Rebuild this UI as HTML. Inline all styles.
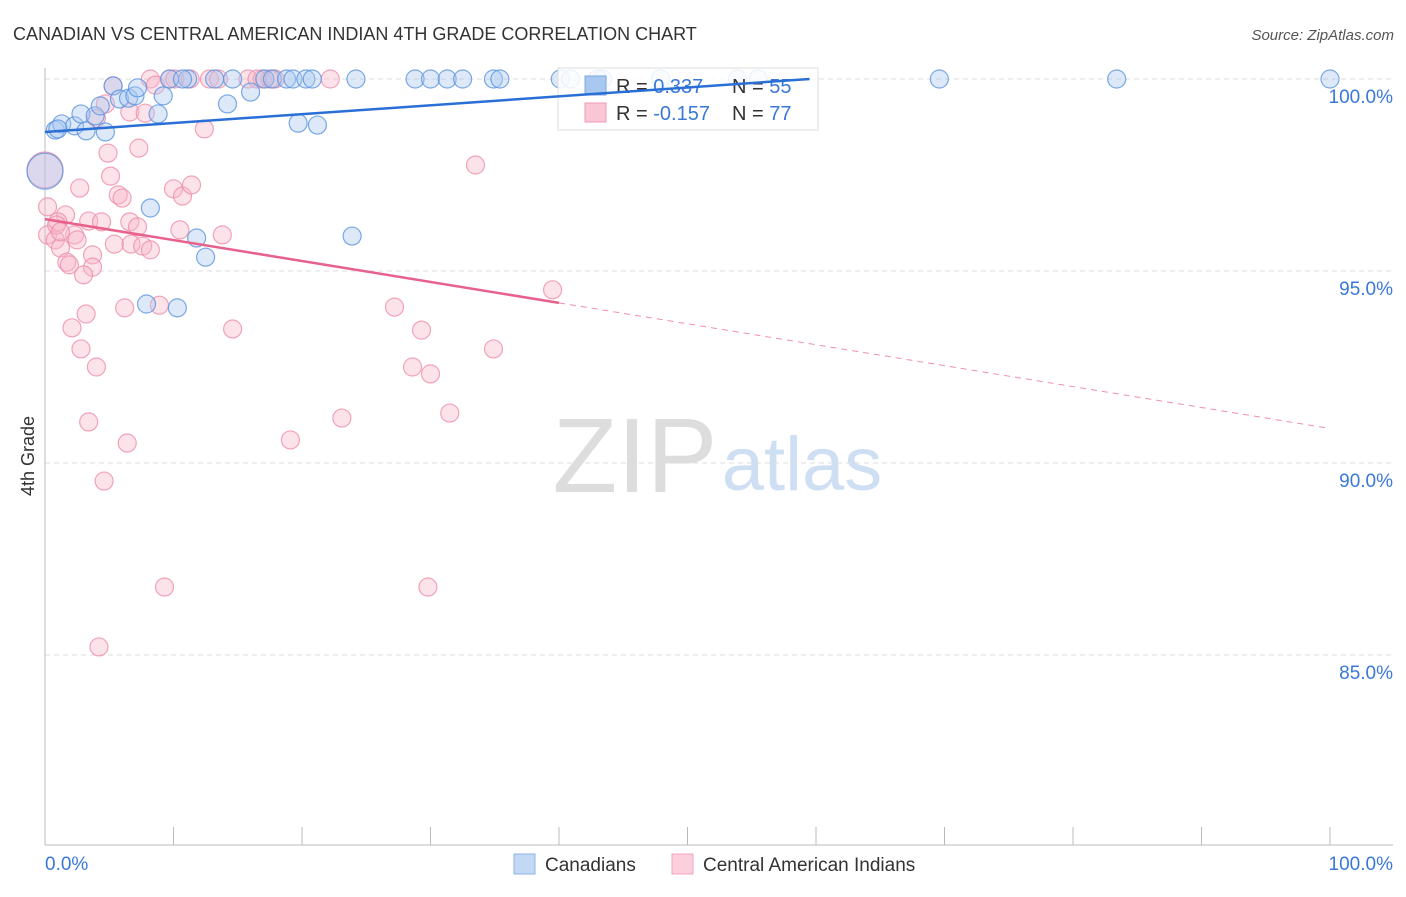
<!DOCTYPE html>
<html><head><meta charset="utf-8"><style>
body{margin:0;background:#fff;font-family:"Liberation Sans",sans-serif}
svg text{font-family:"Liberation Sans",sans-serif}
</style></head><body>
<svg id="chart" width="1406" height="892" viewBox="0 0 1406 892" xmlns="http://www.w3.org/2000/svg">
<text x="13" y="40" font-size="18" fill="#333">CANADIAN VS CENTRAL AMERICAN INDIAN 4TH GRADE CORRELATION CHART</text>
<text x="1394" y="40" font-size="15" fill="#555" text-anchor="end" font-style="italic">Source: ZipAtlas.com</text>
<g>
<text x="635" y="492" font-size="106" fill="#ddd" text-anchor="middle" font-family="Liberation Serif">ZIP</text>
<text x="802" y="490" font-size="76" fill="#cfdff3" text-anchor="middle">atlas</text>
</g>
<g id="grid"></g><g id="axes"></g><g id="pts"></g>
<g>
<rect x="558" y="68" width="260" height="62" fill="#fff" fill-opacity="0.85" stroke="#ddd"/>
<rect x="585" y="76" width="21" height="19" fill="#a9c8f0" stroke="#7aa8e6"/>
<rect x="585" y="103" width="21" height="19" fill="#f9c6d5" stroke="#f09ab3"/>
<text x="616" y="93" font-size="20" fill="#333">R = <tspan fill="#3a78d8">0.337</tspan></text>
<text x="732" y="93" font-size="20" fill="#333">N = <tspan fill="#3a78d8">55</tspan></text>
<text x="616" y="120" font-size="20" fill="#333">R = <tspan fill="#3a78d8">-0.157</tspan></text>
<text x="732" y="120" font-size="20" fill="#333">N = <tspan fill="#3a78d8">77</tspan></text>
</g>
<g id="trends"></g>
<g>
<rect x="514" y="854" width="21" height="20" fill="#c3d8f4" stroke="#8db3e8"/>
<text x="545" y="871" font-size="19" fill="#333">Canadians</text>
<rect x="672" y="854" width="21" height="20" fill="#fbd0dc" stroke="#f0a5bb"/>
<text x="703" y="871" font-size="19" fill="#333">Central American Indians</text>
</g>
<text transform="translate(34,456) rotate(-90)" font-size="18" fill="#333" text-anchor="middle">4th Grade</text>
</svg>
<script>
const yTicks=[100,95,90,85];
const yTickLabels=["100.0%","95.0%","90.0%","85.0%"];
const xTickLabels=["0.0%","100.0%"];
const blueX=[0.8,1.3,2.3,3.2,2.8,3.9,4.3,4.7,5.3,5.8,6.5,7.0,7.2,8.8,9.2,8.2,7.9,10.3,11.1,11.8,12.5,14.2,16.0,14.6,17.1,17.7,18.8,19.3,20.3,20.8,19.7,21.2,23.9,24.2,28.8,30.0,31.3,32.5,34.9,35.4,40.1,40.9,47.9,53.9,55.5,69.6,83.4,100,0,9.7,10.7,13.2,43.0,43.4,1.0];
const blueY=[98.67,98.83,98.78,98.65,99.09,99.04,99.30,98.62,99.82,99.48,99.5,99.56,99.77,99.09,99.56,96.64,94.14,94.04,100,95.86,95.36,99.35,99.66,100,100,100,100,100,100,100,98.85,98.8,95.91,100,100,100,100,100,100,100,100,100,100,100,100,100,100,100,97.6,100,100,100,100,100,98.7];
const pinkX=[5.3,8.2,8.6,9.7,10.1,11.3,12.8,13.5,15.8,16.9,17.5,17.9,22.2,4.7,4.0,6.6,7.8,12.4,7.3,4.9,33.5,2.7,5.1,5.7,6.0,10.0,10.7,11.4,0.2,1.6,1.0,3.4,4.4,6.6,7.2,10.5,13.8,0.2,0.8,1.2,2.3,2.5,5.4,6.7,7.6,8.2,3.7,1.7,1.9,3.7,3.0,39.5,6.2,8.9,3.2,2.1,14.6,27.2,29.3,2.8,34.9,4.0,28.6,30.0,31.5,23.1,3.4,6.4,19.1,4.6,9.3,29.8,4.2,0,0.9,1.2,16.5];
const pinkY=[99.82,100,99.84,100,100,100,100,100,100,100,100,100,100,99.35,98.98,99.14,99.11,98.70,98.20,98.07,97.76,97.16,97.47,96.98,96.90,97.14,96.95,97.24,96.67,96.46,96.28,96.30,96.28,96.28,96.15,96.07,95.94,95.94,95.81,95.60,95.94,95.81,95.70,95.70,95.65,95.55,95.42,95.23,95.16,95.10,94.90,94.51,94.04,94.11,93.88,93.52,93.49,94.06,93.46,92.97,92.97,92.50,92.50,92.32,91.30,91.17,91.07,90.52,90.60,89.53,86.77,86.77,85.21,97.63,96.2,96.02,100];
const blueTrend=[98.62,100.94];
const pinkTrend=[96.35,90.9];
const pinkSolidEnd=40;
const NS="http://www.w3.org/2000/svg";
const X=v=>45+v*12.85, Y=v=>79+(100-v)*38.4;
function mk(t,a,p){const e=document.createElementNS(NS,t);for(const k in a)e.setAttribute(k,a[k]);p.appendChild(e);return e;}
const grid=document.getElementById('grid'),axes=document.getElementById('axes'),pts=document.getElementById('pts'),tr=document.getElementById('trends');
yTicks.forEach((t,i)=>{
 const l=mk('line',{x1:45,x2:1393,y1:Y(t),y2:Y(t),stroke:'#ddd','stroke-dasharray':'5,4'},grid);
 
 
 const tx=mk('text',{x:1393,y:Y(t)+24,'font-size':19,fill:'#3a78d8','text-anchor':'end'},grid);
 tx.textContent=yTickLabels[i];
 
 
});
const ya=mk('line',{x1:45,x2:45,y1:68,y2:845,stroke:'#bbb'},axes);


const xa=mk('line',{x1:45,x2:1393,y1:845,y2:845,stroke:'#bbb'},axes);


for(let i=0;i<=10;i++){const t=mk('line',{x1:X(i*10),x2:X(i*10),y1:827,y2:845,stroke:'#bbb'},axes);
 
 }
[[0,'start',45],[1,'end',1393]].forEach(([i,a,x])=>{const t=mk('text',{x:x,y:870,'font-size':19,fill:'#3a78d8','text-anchor':a},axes);t.textContent=xTickLabels[i];
 
 });
function dots(xs,ys,fill,stroke,name){xs.forEach((x,i)=>{const big=(x===0&&ys[i]>97&&ys[i]<98);
 const c=mk('circle',{cx:X(x),cy:Y(ys[i]),r:big?18:9,fill:fill,'fill-opacity':0.4,stroke:stroke,'stroke-opacity':0.8,'stroke-width':1.2},pts);
 
 });}
dots(pinkX,pinkY,'#f7b6c9','#ee8fab','central-american-indian-point');
dots(blueX,blueY,'#a9c8f0','#5b93de','canadian-point');
const bx=59.5, by=blueTrend[0]+(blueTrend[1]-blueTrend[0])*bx/100;
const bl=mk('line',{x1:X(0),y1:Y(blueTrend[0]),x2:X(bx),y2:Y(by),stroke:'#2a6fd6','stroke-width':2.5},tr);


const pe=pinkTrend[0]+(pinkTrend[1]-pinkTrend[0])*pinkSolidEnd/100;
const pl=mk('line',{x1:X(0),y1:Y(pinkTrend[0]),x2:X(pinkSolidEnd),y2:Y(pe),stroke:'#e8608c','stroke-width':2.5},tr);


const pd=mk('line',{x1:X(pinkSolidEnd),y1:Y(pe),x2:X(99.6),y2:Y(pinkTrend[0]+(pinkTrend[1]-pinkTrend[0])*0.996),stroke:'#e8608c','stroke-width':1,'stroke-dasharray':'6,5','stroke-opacity':0.7},tr);


</script>
</body></html>
